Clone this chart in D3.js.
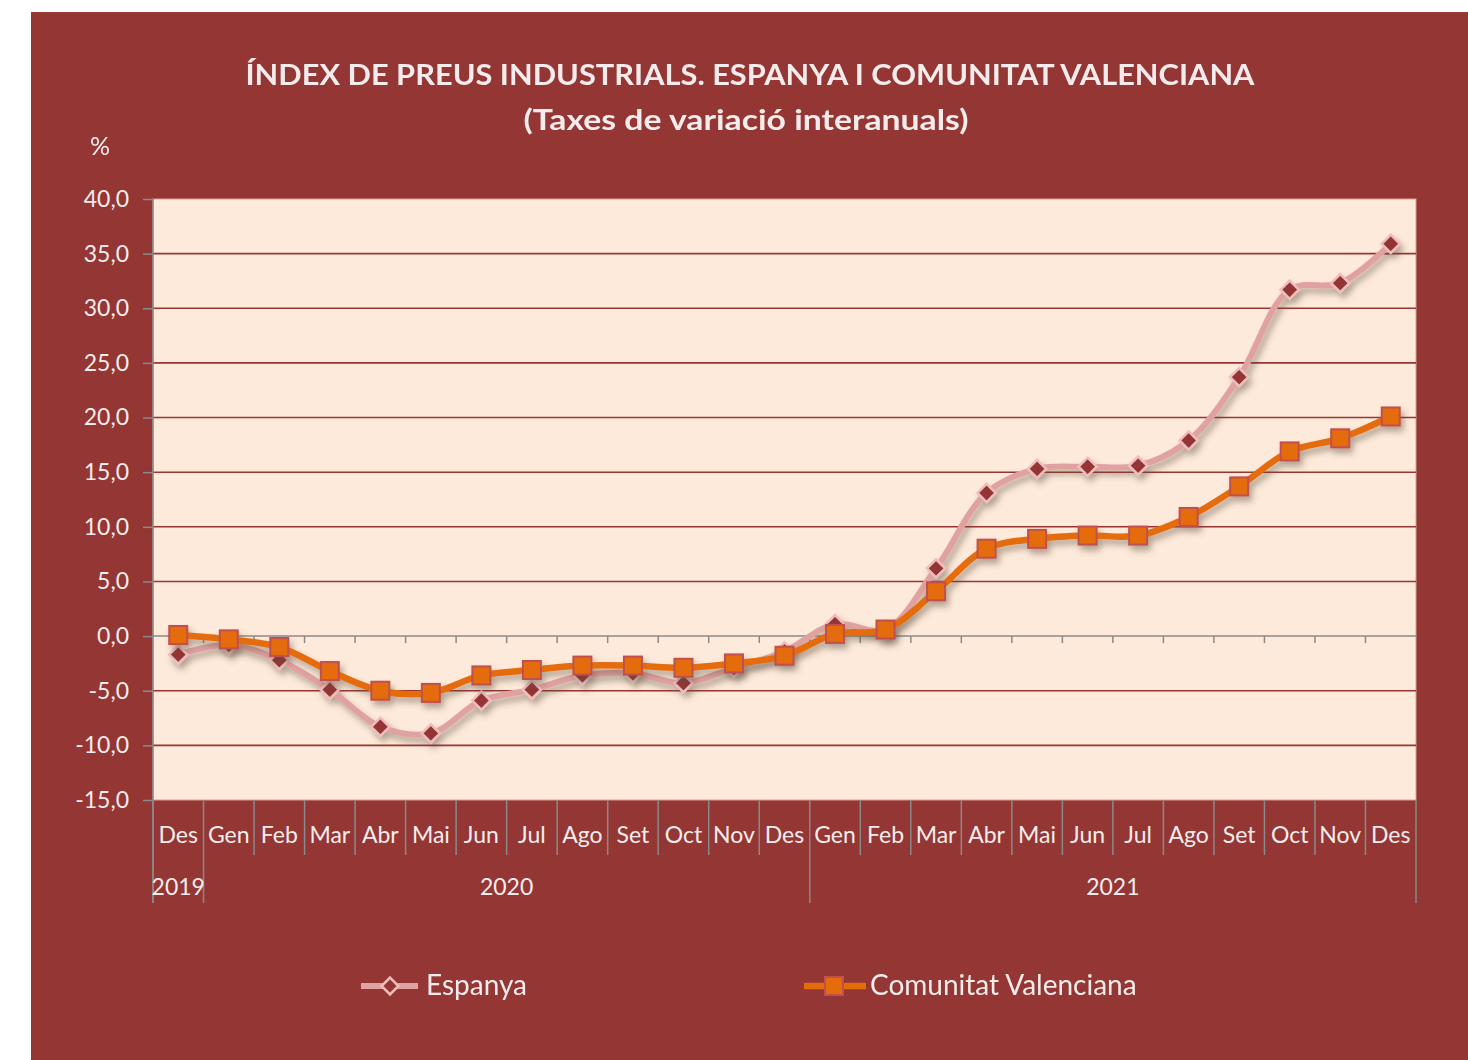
<!DOCTYPE html>
<html><head><meta charset="utf-8">
<script src="https://cdn.jsdelivr.net/npm/d3@7"></script>
<style>body{margin:0;background:#fff}svg{display:block}text{font-family:Lato,"Open Sans",sans-serif}</style>
</head><body><svg id="c" width="1468" height="1060"></svg>
<script>
const months = ["Des","Gen","Feb","Mar","Abr","Mai","Jun","Jul","Ago","Set","Oct","Nov","Des","Gen","Feb","Mar","Abr","Mai","Jun","Jul","Ago","Set","Oct","Nov","Des"];
const years = [{label:"2019",from:0,to:1},{label:"2020",from:1,to:13},{label:"2021",from:13,to:25}];
const espanya = [-1.7,-0.8,-2.2,-4.9,-8.3,-8.9,-5.9,-4.9,-3.6,-3.4,-4.3,-2.9,-1.4,1.1,0.6,6.2,13.1,15.3,15.5,15.6,17.9,23.7,31.7,32.3,35.9];
const valenciana = [0.1,-0.3,-1.0,-3.2,-5.0,-5.2,-3.6,-3.1,-2.7,-2.7,-2.9,-2.5,-1.8,0.2,0.6,4.1,8.0,8.9,9.2,9.2,10.9,13.7,16.9,18.1,20.1];
const yTicks = [40,35,30,25,20,15,10,5,0,-5,-10,-15];
const title = "ÍNDEX DE PREUS INDUSTRIALS. ESPANYA I COMUNITAT VALENCIANA";
const subtitle = "(Taxes de variació interanuals)";
const seriesNames = ["Espanya","Comunitat Valenciana"];

const svg = d3.select("#c");
const BG = "#943634", PLOT = "#fdeada", TXT = "#f4ecec", GRID = "#9b3432", AX = "#8a8a8a";
const L = 153, R = 1416, T = 199, B = 800;

svg.append("rect").attr("x",31).attr("y",12).attr("width",1437).attr("height",1048).attr("fill",BG);

const defs = svg.append("defs");
const f = defs.append("filter").attr("id","sh").attr("x","-10%").attr("y","-10%").attr("width","120%").attr("height","130%");
f.append("feDropShadow").attr("dx",3).attr("dy",5).attr("stdDeviation",3).attr("flood-color","#5a4a3a").attr("flood-opacity",0.45);

const x = d3.scaleBand().domain(d3.range(months.length)).range([L,R]).padding(0);
const bw = x.bandwidth();
const cx = i => x(i) + bw/2;
const y = d3.scaleLinear().domain([-15,40]).range([B,T]);

svg.append("rect").attr("x",L).attr("y",T).attr("width",R-L).attr("height",B-T).attr("fill",PLOT).attr("stroke","#d9a09a").attr("stroke-width",1);

// gridlines
svg.append("g").selectAll("line").data(yTicks.filter(v=>v!==0 && v!==-15 && v!==40)).join("line")
  .attr("x1",L).attr("x2",R).attr("y1",d=>y(d)).attr("y2",d=>y(d))
  .attr("stroke",GRID).attr("stroke-width",1.6);

// y axis
const yAxis = d3.axisLeft(y).tickValues(yTicks).tickSize(10).tickPadding(14)
  .tickFormat(d=>d3.format(".1f")(d).replace(".",",").replace("−","-"));
const gy = svg.append("g").attr("transform",`translate(${L},0)`).call(yAxis);
gy.select(".domain").remove();
gy.selectAll(".tick line").attr("stroke",AX).attr("stroke-width",1.5);
gy.selectAll(".tick text").attr("fill",TXT).attr("font-size",23).attr("font-family","Lato");
svg.append("line").attr("x1",L).attr("x2",L).attr("y1",T).attr("y2",903).attr("stroke",AX).attr("stroke-width",1.5);

// zero axis with ticks
svg.append("line").attr("x1",L).attr("x2",R).attr("y1",y(0)).attr("y2",y(0)).attr("stroke",AX).attr("stroke-width",1.5);
svg.append("g").selectAll("line").data(d3.range(1,months.length)).join("line")
  .attr("x1",d=>x(d)).attr("x2",d=>x(d)).attr("y1",y(0)).attr("y2",y(0)+7).attr("stroke",AX).attr("stroke-width",1.5);

// category separators below plot
const yearBounds = new Set(years.map(d=>d.from).concat([months.length]));
svg.append("g").selectAll("line").data(d3.range(0,months.length+1)).join("line")
  .attr("x1",d=>d===months.length?R:x(d)).attr("x2",d=>d===months.length?R:x(d))
  .attr("y1",B).attr("y2",d=>yearBounds.has(d)?903:855)
  .attr("stroke",AX).attr("stroke-width",1.5);

svg.append("g").selectAll("text").data(months).join("text")
  .attr("x",(d,i)=>cx(i)).attr("y",843).attr("text-anchor","middle")
  .attr("fill",TXT).attr("font-size",23).text(d=>d);
svg.append("g").selectAll("text").data(years).join("text")
  .attr("x",d=>(x(d.from) + (d.to===months.length?R:x(d.to)))/2).attr("y",895).attr("text-anchor","middle")
  .attr("fill",TXT).attr("font-size",23).text(d=>d.label);

// lines
const line = d3.line().x((d,i)=>cx(i)).y(d=>y(d)).curve(d3.curveCatmullRom.alpha(0.5));
const gE = svg.append("g").attr("filter","url(#sh)");
gE.append("path").datum(espanya).attr("d",line).attr("fill","none").attr("stroke","#e0a2a0").attr("stroke-width",6).attr("stroke-linejoin","round");
gE.selectAll("path.m").data(espanya).join("path").attr("class","m")
  .attr("d",d3.symbol(d3.symbolDiamond2,210)())
  .attr("transform",(d,i)=>`translate(${cx(i)},${y(d)})`)
  .attr("fill","#943634").attr("stroke","#f0bcbc").attr("stroke-width",2.5);

const gV = svg.append("g").attr("filter","url(#sh)");
gV.append("path").datum(valenciana).attr("d",line).attr("fill","none").attr("stroke","#e46c0a").attr("stroke-width",6.5).attr("stroke-linejoin","round");
gV.selectAll("rect").data(valenciana).join("rect")
  .attr("x",(d,i)=>cx(i)-9).attr("y",d=>y(d)-9).attr("width",18).attr("height",18)
  .attr("fill","#e46c0a").attr("stroke","#c0504d").attr("stroke-width",2);

// titles
svg.append("text").attr("x",750).attr("y",85).attr("text-anchor","middle").attr("fill",TXT)
  .attr("font-size",28).attr("font-weight","bold").attr("textLength",1009).attr("lengthAdjust","spacingAndGlyphs").text(title);
svg.append("text").attr("x",746).attr("y",130).attr("text-anchor","middle").attr("fill",TXT)
  .attr("font-size",28).attr("font-weight","bold").attr("textLength",445).attr("lengthAdjust","spacingAndGlyphs").text(subtitle);
svg.append("text").attr("x",100).attr("y",155).attr("text-anchor","middle").attr("fill",TXT).attr("font-size",25).text("%");

// legend
const lg = svg.append("g");
lg.append("line").attr("x1",361).attr("x2",418).attr("y1",986).attr("y2",986).attr("stroke","#e0a2a0").attr("stroke-width",6);
lg.append("path").attr("d",d3.symbol(d3.symbolDiamond2,180)()).attr("transform","translate(390,986)")
  .attr("fill",BG).attr("stroke","#f0bcbc").attr("stroke-width",2.5);
lg.append("text").attr("x",426).attr("y",995).attr("fill",TXT).attr("font-size",28).text(seriesNames[0]);
lg.append("line").attr("x1",804).attr("x2",866).attr("y1",986).attr("y2",986).attr("stroke","#e46c0a").attr("stroke-width",6.5);
lg.append("rect").attr("x",825).attr("y",977).attr("width",18).attr("height",18).attr("fill","#e46c0a").attr("stroke","#c0504d").attr("stroke-width",2);
lg.append("text").attr("x",870).attr("y",995).attr("fill",TXT).attr("font-size",28).text(seriesNames[1]);
</script></body></html>
